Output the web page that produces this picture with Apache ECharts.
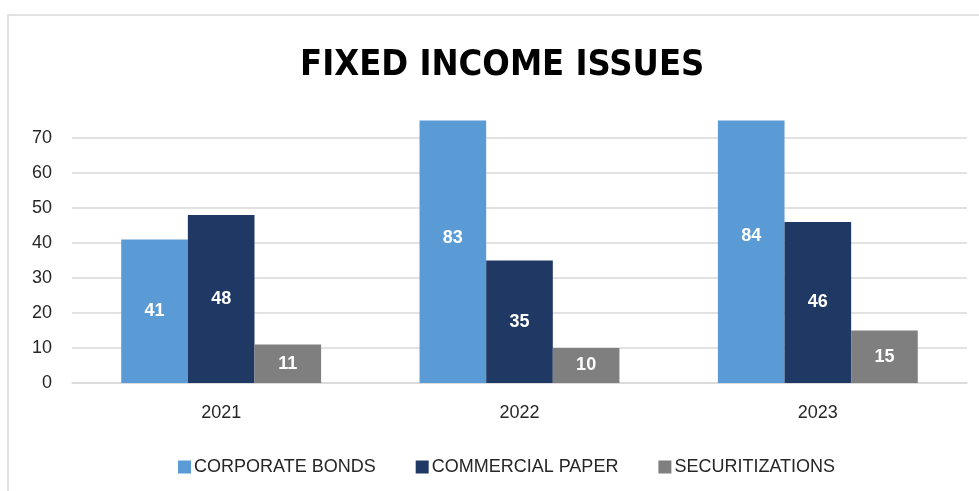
<!DOCTYPE html>
<html>
<head>
<meta charset="utf-8">
<script src="https://cdn.jsdelivr.net/npm/echarts@6/dist/echarts.min.js"></script>
<style>
  html, body { margin: 0; padding: 0; background: #ffffff; }
  #chart { width: 979px; height: 491px; }
</style>
</head>
<body>
<div id="chart"></div>
<script>
// Issue volumes by year and instrument type
const categories = ['2021', '2022', '2023'];
const seriesNames = ['CORPORATE BONDS', 'COMMERCIAL PAPER', 'SECURITIZATIONS'];
const corporateBonds = [41, 83, 84];
const commercialPaper = [48, 35, 46];
const securitizations = [11, 10, 15];
const seriesColors = ['#5b9bd5', '#1f3864', '#7f7f7f'];

// Value axis: ticks 0..70 every 10, plot area ends at 75
const Y_MIN = 0;
const Y_MAX = 75;
const Y_STEP = 10;

const FONT = '"Liberation Sans", Arial, sans-serif';
const TITLE_FONT = '"DejaVu Sans Condensed", "Liberation Sans", sans-serif';

const chart = echarts.init(document.getElementById('chart'), null, { renderer: 'canvas' });

function buildSeries(labelOffsets) {
  const values = [corporateBonds, commercialPaper, securitizations];
  return values.map((vals, i) => ({
    name: seriesNames[i],
    type: 'bar',
    barGap: '0%',
    barCategoryGap: '33%',
    itemStyle: { color: seriesColors[i] },
    label: {
      show: true,
      position: 'inside',
      color: '#ffffff',
      fontFamily: FONT,
      fontWeight: 'bold',
      fontSize: 18
    },
    data: vals.map((v, j) => {
      const off = labelOffsets ? labelOffsets[i][j] : 0;
      return off ? { value: v, label: { offset: [0, off] } } : v;
    })
  }));
}

const option = {
  backgroundColor: '#ffffff',
  animation: false,
  title: {
    text: 'FIXED INCOME ISSUES',
    left: 295,
    top: 43,
    textStyle: {
      fontFamily: TITLE_FONT,
      fontWeight: 'bold',
      fontSize: 36,
      color: '#000000'
    }
  },
  legend: {
    left: 173,
    top: 453,
    itemWidth: 13,
    itemHeight: 13,
    itemGap: 40,
    icon: 'rect',
    textStyle: {
      fontFamily: FONT,
      fontSize: 18,
      color: '#262626',
      padding: [0, 0, 0, -2]
    },
    data: seriesNames
  },
  grid: {
    left: 72,
    right: 12,
    top: 120.5,
    bottom: 108,
    containLabel: false
  },
  xAxis: {
    type: 'category',
    data: categories,
    axisTick: { show: false },
    axisLine: { show: true, lineStyle: { color: '#d9d9d9', width: 1.5 } },
    axisLabel: {
      margin: 21,
      fontFamily: FONT,
      fontSize: 18,
      color: '#262626'
    }
  },
  yAxis: {
    type: 'value',
    min: Y_MIN,
    max: Y_MAX,
    interval: Y_STEP,
    axisLine: { show: false },
    axisTick: { show: false },
    splitLine: { show: true, showMaxLine: false, lineStyle: { color: '#d9d9d9', width: 1.5 } },
    axisLabel: {
      showMaxLabel: false,
      margin: 20,
      fontFamily: FONT,
      fontSize: 18,
      color: '#262626'
    }
  },
  graphic: [{
    type: 'rect',
    shape: { x: 8, y: 15, width: 1000, height: 500 },
    style: { fill: 'none', stroke: '#d9d9d9', lineWidth: 1.5 },
    silent: true,
    z: -1
  }],
  series: buildSeries(null)
};

chart.setOption(option);

// Bars taller than the axis limit are cut at Y_MAX; keep their value labels
// centred on the full bar length, as measured through the value axis.
const allValues = [corporateBonds, commercialPaper, securitizations];
const offsets = allValues.map(vals => vals.map(v => {
  if (v <= Y_MAX) return 0;
  const fullMid = chart.convertToPixel({ yAxisIndex: 0 }, v / 2);
  const clippedMid = chart.convertToPixel({ yAxisIndex: 0 }, Y_MAX / 2);
  return fullMid - clippedMid;
}));
chart.setOption({ series: buildSeries(offsets) });
</script>
</body>
</html>
